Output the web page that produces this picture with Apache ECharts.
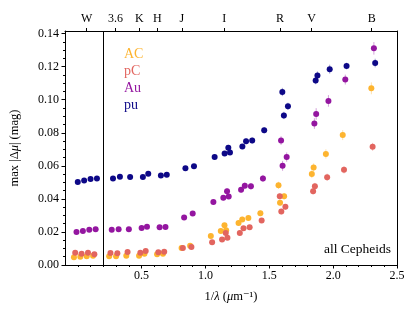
<!DOCTYPE html>
<html><head><meta charset="utf-8">
<script src="https://cdn.jsdelivr.net/npm/echarts@6/dist/echarts.min.js"></script>
<style>html,body{margin:0;padding:0;background:#fff}#c{width:415px;height:312px}</style>
</head><body><div id="c"></div>
<script>
// Band positions (1/lambda, um^-1) for the 29 measurements, W block at left
const bandX = [0.000,0.050,0.100,0.150,0.276,0.330,0.410,0.510,0.552,0.651,0.697,0.843,0.910,1.072,1.150,1.179,1.192,1.289,1.318,1.366,1.460,1.602,1.614,1.646,1.863,1.877,1.973,2.105,2.329];
// Horizontal dodge of each sample
const seriesNames = ['AC','pC','Au','pu'];
const dodge = {AC:-0.03, pC:-0.02, Au:-0.01, pu:0};
const colors = {AC:'#fdb42f', pC:'#e2655f', Au:'#9416a0', pu:'#0d0887'};

const valAC = [0.0047,0.0050,0.0053,0.0056,0.0053,0.0053,0.0056,0.0056,0.0068,0.0065,0.0068,0.0103,0.0117,0.0175,0.0205,0.0240,0.0211,0.0254,0.0276,0.0284,0.0313,0.0482,0.0376,0.0416,0.0550,0.0590,0.0672,0.0786,0.1069];
const valpC = [0.0074,0.0068,0.0074,0.0065,0.0073,0.0071,0.0079,0.0074,0.0085,0.0077,0.0080,0.0103,0.0109,0.0137,0.0155,0.0193,0.0165,0.0193,0.0222,0.0228,0.0270,0.0416,0.0323,0.0352,0.0447,0.0477,0.0531,0.0576,0.0715];
const valAu = [0.0199,0.0205,0.0213,0.0216,0.0213,0.0216,0.0216,0.0224,0.0231,0.0228,0.0230,0.0288,0.0312,0.0381,0.0407,0.0447,0.0415,0.0455,0.0479,0.0476,0.0524,0.0753,0.0600,0.0653,0.0856,0.0914,0.0993,0.1122,0.1311];
const valpu = [0.0502,0.0512,0.0521,0.0524,0.0524,0.0534,0.0532,0.0532,0.0552,0.0542,0.0546,0.0586,0.0598,0.0654,0.0675,0.0709,0.0681,0.0717,0.0749,0.0753,0.0815,0.1047,0.0905,0.0960,0.1116,0.1146,0.1185,0.1204,0.1222];

const errAC = [0.0005,0.0005,0.0005,0.0005,0.0007,0.0007,0.0007,0.0007,0.0008,0.0008,0.0008,0.0010,0.0010,0.0012,0.0013,0.0015,0.0013,0.0015,0.0016,0.0016,0.0017,0.0022,0.0020,0.0020,0.0024,0.0025,0.0028,0.0030,0.0036];
const errpC = [0.0005,0.0005,0.0005,0.0005,0.0007,0.0007,0.0007,0.0007,0.0008,0.0008,0.0008,0.0010,0.0010,0.0011,0.0012,0.0013,0.0012,0.0013,0.0014,0.0014,0.0015,0.0018,0.0017,0.0017,0.0020,0.0020,0.0022,0.0022,0.0024];
const errAu = [0.0006,0.0006,0.0006,0.0006,0.0008,0.0008,0.0008,0.0008,0.0009,0.0009,0.0009,0.0012,0.0013,0.0015,0.0016,0.0018,0.0016,0.0018,0.0020,0.0020,0.0021,0.0026,0.0030,0.0028,0.0032,0.0035,0.0035,0.0030,0.0038];
const errpu = [0.0006,0.0006,0.0006,0.0006,0.0008,0.0008,0.0008,0.0008,0.0009,0.0009,0.0009,0.0012,0.0012,0.0013,0.0014,0.0018,0.0014,0.0015,0.0018,0.0018,0.0018,0.0025,0.0022,0.0022,0.0022,0.0025,0.0027,0.0020,0.0026];

const values = {AC:valAC, pC:valpC, Au:valAu, pu:valpu};
const errors = {AC:errAC, pC:errpC, Au:errAu, pu:errpu};

// Top axis: photometric bands
const bandNames = ['W','3.6','K','H','J','I','R','V','B'];
const bandTicks = [0.070,0.295,0.482,0.623,0.815,1.148,1.584,1.832,2.302];
const wBreak = 0.2;

const yMajor = [0,0.02,0.04,0.06,0.08,0.10,0.12,0.14];
const yMinor = [];
for (let k = 0; k <= 28; k++) yMinor.push(+(k*0.005).toFixed(3));
const xMajor = [0.5,1.0,1.5,2.0,2.5];
const xMinor = [];
for (let k = 0; k <= 24; k++) xMinor.push(+(k*0.1).toFixed(1));

const FONT = '"Liberation Serif", "DejaVu Serif", serif';
const XMIN = -0.1, XMAX = 2.5, YMIN = 0, YMAX = 0.1416;

const chart = echarts.init(document.getElementById('c'), null, {renderer:'canvas'});

const series = [];
seriesNames.forEach(function(n){
  const pts = bandX.map(function(x,i){ return [x + dodge[n], values[n][i], errors[n][i]]; });
  series.push({
    name: n + '_err', type: 'custom', xAxisIndex: 0, yAxisIndex: 0, z: 1,
    data: pts, encode: {x:0, y:1}, silent: true,
    renderItem: function(params, api){
      const x = api.value(0), y = api.value(1), e = api.value(2);
      const p1 = api.coord([x, y - e]), p2 = api.coord([x, y + e]);
      return {type:'line', shape:{x1:p1[0], y1:p1[1], x2:p2[0], y2:p2[1]},
        style:{stroke:colors[n], lineWidth:1, opacity:0.4}};
    }
  });
});
seriesNames.forEach(function(n){
  const s = {
    name: n, type: 'scatter', xAxisIndex: 0, yAxisIndex: 0, z: 3,
    symbol: 'circle', symbolSize: 6,
    itemStyle: {color: colors[n], opacity: 1},
    data: bandX.map(function(x,i){ return [x + dodge[n], values[n][i]]; })
  };
  if (n === 'pu') {
    s.markLine = {silent:true, symbol:['none','none'], label:{show:false},
      lineStyle:{color:'#000', width:1, type:'solid'}, data:[{xAxis: wBreak}]};
  }
  series.push(s);
});

chart.setOption({
  animation: false,
  backgroundColor: '#fff',
  grid: {left: 65, right: 18, top: 31, bottom: 47},
  legend: {
    orient: 'vertical', left: 114, top: 42, itemWidth: 0, itemHeight: 0, itemGap: 3,
    icon: 'circle', selectedMode: false,
    textStyle: {fontFamily: FONT, fontSize: 14},
    data: seriesNames.map(function(n){ return {name:n, textStyle:{color:colors[n]}}; })
  },
  graphic: [{
    type: 'text', right: 24, top: 242,
    style: {text: 'all Cepheids', font: '13.5px ' + FONT, fill: '#000'}
  }],
  xAxis: [
    {type:'value', position:'bottom', min:XMIN, max:XMAX,
     axisLine:{show:true, onZero:false, lineStyle:{color:'#000', width:1}},
     axisTick:{show:true, length:3.5, lineStyle:{color:'#000'}, customValues:xMajor},
     axisLabel:{customValues:xMajor, formatter:function(v){return v.toFixed(1);}, fontFamily:FONT, fontSize:12, color:'#000', margin:5},
     splitLine:{show:false},
     name:'1/{i|λ} ({i|μ}m⁻¹)', nameLocation:'middle', nameGap:25,
     nameTextStyle:{fontFamily:FONT, fontSize:12.5, color:'#000', rich:{i:{fontFamily:FONT, fontSize:12.5, fontStyle:'italic', color:'#000'}}}},
    {type:'value', position:'bottom', min:XMIN, max:XMAX,
     axisLine:{show:false, onZero:false},
     axisTick:{show:true, length:2, lineStyle:{color:'#000'}, customValues:xMinor},
     axisLabel:{show:false}, splitLine:{show:false}},
    {type:'value', position:'top', min:XMIN, max:XMAX,
     axisLine:{show:true, onZero:false, lineStyle:{color:'#000', width:1}},
     axisTick:{show:true, length:3, lineStyle:{color:'#000'}, customValues:bandTicks},
     axisLabel:{customValues:bandTicks, fontFamily:FONT, fontSize:12, color:'#000', margin:6,
       formatter:function(v){
         let best = 0;
         for (let k = 1; k < bandTicks.length; k++) if (Math.abs(bandTicks[k]-v) < Math.abs(bandTicks[best]-v)) best = k;
         return bandNames[best];
       }},
     splitLine:{show:false}}
  ],
  yAxis: [
    {type:'value', position:'left', min:YMIN, max:YMAX,
     axisLine:{show:true, onZero:false, lineStyle:{color:'#000', width:1}},
     axisTick:{show:true, length:3.5, lineStyle:{color:'#000'}, customValues:yMajor},
     axisLabel:{customValues:yMajor, formatter:function(v){return v.toFixed(2);}, fontFamily:FONT, fontSize:12, color:'#000', margin:6},
     splitLine:{show:false},
     name:'max |Δ{i|μ}| (mag)', nameLocation:'middle', nameGap:44,
     nameTextStyle:{fontFamily:FONT, fontSize:12.5, color:'#000', rich:{i:{fontFamily:FONT, fontSize:12.5, fontStyle:'italic', color:'#000'}}}},
    {type:'value', position:'left', min:YMIN, max:YMAX,
     axisLine:{show:false, onZero:false},
     axisTick:{show:true, length:2, lineStyle:{color:'#000'}, customValues:yMinor},
     axisLabel:{show:false}, splitLine:{show:false}},
    {type:'value', position:'right', min:YMIN, max:YMAX,
     axisLine:{show:true, onZero:false, lineStyle:{color:'#000', width:1}},
     axisTick:{show:false}, axisLabel:{show:false}, splitLine:{show:false}}
  ],
  series: series
});
</script></body></html>
